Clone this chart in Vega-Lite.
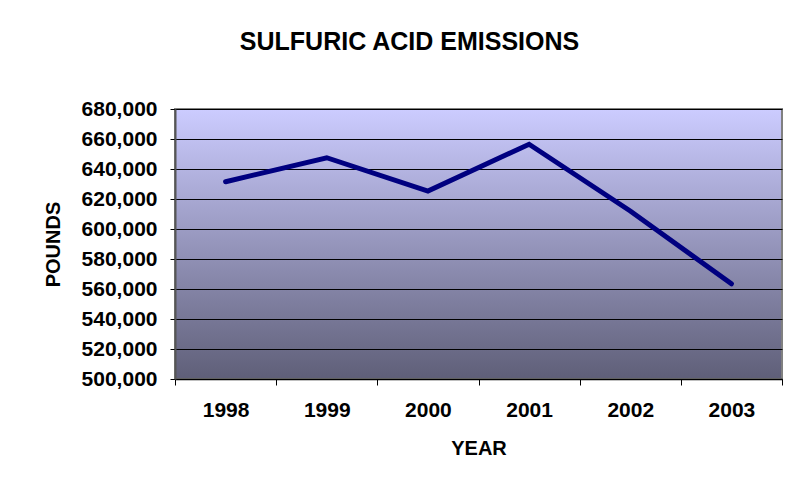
{
  "$schema": "https://vega.github.io/schema/vega-lite/v6.json",
  "width": 607,
  "height": 270,
  "autosize": {"type": "none"},
  "padding": {"left": 175, "top": 109, "right": 12, "bottom": 104},
  "background": "white",
  "title": {
    "text": "SULFURIC ACID EMISSIONS",
    "font": "Liberation Sans",
    "fontSize": 25,
    "fontWeight": "bold",
    "color": "black",
    "anchor": "middle",
    "frame": "group",
    "dx": -69,
    "offset": 43
  },
  "data": {
    "values": [
      {"year": "1998", "pounds": 631500},
      {"year": "1999", "pounds": 647500},
      {"year": "2000", "pounds": 625300},
      {"year": "2001", "pounds": 656500},
      {"year": "2002", "pounds": 612000},
      {"year": "2003", "pounds": 563500}
    ]
  },
  "mark": {"type": "line", "color": "#000080", "strokeWidth": 5, "strokeCap": "round", "strokeJoin": "miter"},
  "encoding": {
    "x": {
      "field": "year",
      "type": "ordinal",
      "scale": {"type": "band", "paddingInner": 0, "paddingOuter": 0},
      "axis": {
        "title": "YEAR",
        "labelAngle": 0,
        "labelFont": "Liberation Sans",
        "labelFontSize": 21,
        "labelFontWeight": "bold",
        "labelColor": "black",
        "labelPadding": 14,
        "tickBand": "extent",
        "tickSize": 6,
        "tickColor": "black",
        "domainColor": "black",
        "domainWidth": 1.5,
        "titleFont": "Liberation Sans",
        "titleFontSize": 20,
        "titleFontWeight": "bold",
        "titleColor": "black",
        "titlePadding": 18,
        "grid": false
      }
    },
    "y": {
      "field": "pounds",
      "type": "quantitative",
      "scale": {"domain": [500000, 680000], "nice": false, "zero": false},
      "axis": {
        "title": "POUNDS",
        "values": [500000, 520000, 540000, 560000, 580000, 600000, 620000, 640000, 660000, 680000],
        "format": ",d",
        "labelFont": "Liberation Sans",
        "labelFontSize": 21,
        "labelFontWeight": "bold",
        "labelColor": "black",
        "labelPadding": 13,
        "tickSize": 5,
        "tickColor": "black",
        "domainColor": "#555555",
        "domainWidth": 2,
        "titleFont": "Liberation Sans",
        "titleFontSize": 20,
        "titleFontWeight": "bold",
        "titleColor": "black",
        "titlePadding": 18,
        "grid": true,
        "gridColor": "black",
        "gridWidth": 1,
        "gridOpacity": 1
      }
    }
  },
  "config": {
    "view": {
      "fill": {
        "gradient": "linear",
        "x1": 0, "y1": 0, "x2": 0, "y2": 1,
        "stops": [
          {"offset": 0, "color": "#ccccff"},
          {"offset": 1, "color": "#5f5f78"}
        ]
      },
      "stroke": "#808080",
      "strokeWidth": 2
    }
  }
}
